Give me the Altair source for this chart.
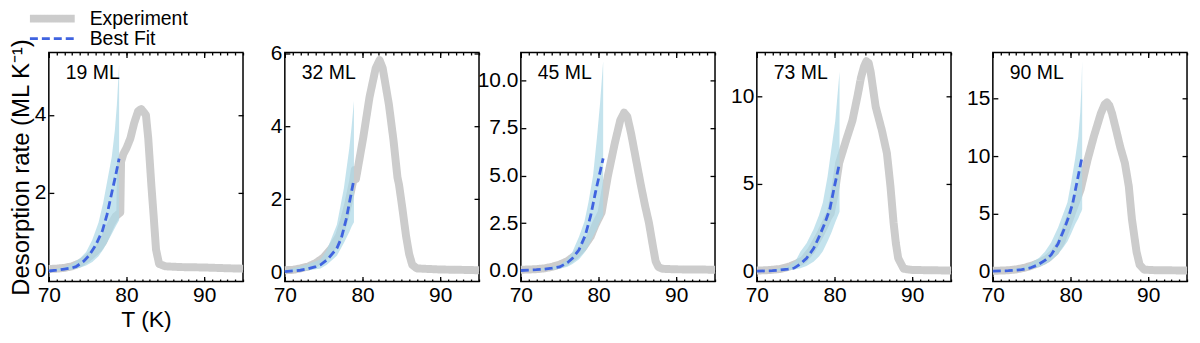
import altair as alt
import pandas as pd

FONT = "Liberation Sans"
series_names = ["Experiment", "Best Fit"]
series_colors = ["#cccccc", "#3f63e0"]
series_dash = [[1, 0], [8, 4]]
series_width = [8, 2.8]

x_domain = [70, 95]
x_major = [70, 80, 90]
x_minor = list(range(70, 96))

# ---- 19 ML ----
exp19_T = [70, 71, 72, 73, 74, 75, 76, 76.4, 77, 78, 78.6, 79.2, 79.3, 79.6, 80, 80.5, 81, 81.5, 81.9,
           82.5, 82.8, 83.2, 83.5, 83.8, 84.2, 85, 87, 90, 93, 95]
exp19_rate = [0.05, 0.06, 0.08, 0.12, 0.2, 0.33, 0.5, 0.58, 0.75, 1.2, 1.4, 1.5, 2.8, 3.0, 3.15, 3.4, 3.8,
              4.1, 4.15, 4.0, 3.4, 2.2, 1.4, 0.55, 0.18, 0.12, 0.1, 0.09, 0.07, 0.06]
fit19_T = [70, 71, 72, 73, 73.5, 74.5, 75.2, 76, 76.9, 77.5, 78.1, 78.6, 79.05]
fit19_rate = [0.0, 0.02, 0.05, 0.08, 0.11, 0.25, 0.4, 0.65, 1.03, 1.45, 2.0, 2.45, 2.88]
band19_T = [70, 71, 72, 73, 74, 74.8, 75.6, 76.4, 77.0, 77.7, 78.1, 78.5, 78.76, 79.05]
band19_hi = [0.03, 0.06, 0.1, 0.18, 0.32, 0.49, 0.8, 1.24, 1.75, 2.5, 2.92, 3.6, 4.26, 5.3]
band19_lo = [0.0, 0.01, 0.02, 0.04, 0.08, 0.14, 0.23, 0.38, 0.55, 0.8, 0.95, 1.1, 1.2, 1.3]

# ---- 32 ML ----
exp32_T = [70, 71, 72, 73, 74, 75, 76, 77, 77.6, 78.2, 78.8, 79.0, 79.15, 79.4, 80.1, 80.9, 81.7, 82.2,
           82.6, 83.0, 83.4, 84.0, 84.5, 84.7, 85.1, 85.6, 86.0, 86.4, 87, 90, 93, 95]
exp32_rate = [0.05, 0.06, 0.1, 0.15, 0.25, 0.4, 0.65, 1.0, 1.4, 1.9, 2.5, 2.8, 2.55, 2.85, 3.7, 4.8, 5.6,
              5.82, 5.6, 5.1, 4.6, 3.6, 2.6, 2.4, 1.8, 1.0, 0.5, 0.2, 0.1, 0.07, 0.06, 0.05]
fit32_T = [70, 72, 73, 74, 74.6, 75.5, 76.7, 77.3, 77.9, 78.4, 78.9]
fit32_rate = [0.01, 0.05, 0.09, 0.15, 0.2, 0.35, 0.65, 0.95, 1.45, 2.0, 2.55]
band32_T = [70, 72, 73, 74, 74.6, 75.4, 76.7, 77.6, 78.3, 78.6, 78.9]
band32_hi = [0.05, 0.15, 0.22, 0.3, 0.35, 0.6, 1.3, 2.3, 3.4, 4.0, 4.7]
band32_lo = [0.0, 0.03, 0.05, 0.08, 0.1, 0.2, 0.45, 0.8, 1.1, 1.25, 1.37]

# ---- 45 ML ----
exp45_T = [70, 71, 72, 73, 74, 75, 76, 77, 78, 79, 79.6, 80.4, 81.2, 82.1, 82.8, 83.3, 83.7, 84.2, 84.8,
           85.5, 86.0, 86.5, 87.0, 87.35, 87.7, 88.2, 90, 93, 95]
exp45_rate = [0.05, 0.06, 0.08, 0.12, 0.2, 0.32, 0.5, 0.8, 1.2, 1.8, 2.4, 3.06, 4.96, 6.7, 7.9, 8.3, 8.1,
              7.2, 5.9, 4.4, 3.4, 2.5, 1.3, 0.5, 0.2, 0.1, 0.07, 0.06, 0.05]
fit45_T = [70, 72, 73, 74, 75, 76, 76.65, 77.5, 78.3, 79, 79.6, 80.1, 80.6]
fit45_rate = [0.01, 0.05, 0.08, 0.13, 0.2, 0.42, 0.65, 1.1, 1.86, 2.9, 4.1, 5.0, 5.9]
band45_T = [70, 72, 74, 75, 76, 76.65, 77.5, 78.2, 78.7, 79.3, 79.8, 80.2, 80.6]
band45_hi = [0.02, 0.08, 0.2, 0.3, 0.6, 1.0, 1.8, 2.6, 3.58, 5.0, 7.0, 8.8, 11.0]
band45_lo = [0.0, 0.02, 0.05, 0.1, 0.2, 0.35, 0.6, 0.95, 1.3, 1.8, 2.2, 2.6, 2.9]

# ---- 73 ML ----
exp73_T = [70, 71, 72, 73, 74, 75, 76, 77, 78.1, 78.8, 79.2, 79.5, 80.0, 80.6, 81.5, 82.3, 83.0, 83.4,
           83.8, 84.1, 84.4, 84.65, 85.3, 86.1, 86.75, 87.2, 87.6, 87.9, 88.2, 88.9, 90, 93, 95]
exp73_rate = [0.05, 0.06, 0.09, 0.14, 0.25, 0.42, 0.65, 1.2, 2.06, 2.7, 3.1, 3.3, 4.4, 6.2, 7.5, 8.6, 10.1,
              11.05, 11.7, 12.0, 11.9, 11.4, 9.4, 8.05, 6.74, 4.87, 2.8, 1.6, 0.75, 0.15, 0.08, 0.06, 0.05]
fit73_T = [70, 72, 73, 74, 74.8, 75.6, 76.4, 77.3, 78.1, 78.8, 79.4, 80.0, 80.65]
fit73_rate = [0.01, 0.04, 0.08, 0.13, 0.19, 0.42, 0.75, 1.3, 2.06, 2.8, 3.56, 4.87, 6.2]
band73_T = [70, 72, 74, 75, 75.6, 76.4, 77.3, 78.0, 78.5, 79.1, 79.6, 80.1, 80.65]
band73_hi = [0.02, 0.08, 0.3, 0.6, 1.12, 1.6, 2.4, 3.2, 3.93, 5.4, 7.0, 8.6, 11.4]
band73_lo = [0.0, 0.02, 0.07, 0.12, 0.18, 0.3, 0.55, 0.85, 1.15, 1.7, 2.2, 2.8, 3.4]

# ---- 90 ML ----
exp90_T = [70, 71, 72, 73, 74, 75, 76, 77, 78, 78.8, 79.6, 80.4, 81.3, 82.2, 83.0, 83.9, 84.4, 84.7, 85.0,
           85.35, 85.9, 86.4, 87.0, 87.5, 87.9, 88.5, 88.9, 89.5, 91, 93, 95]
exp90_rate = [0.05, 0.07, 0.1, 0.17, 0.3, 0.5, 0.75, 1.1, 1.7, 2.56, 4.0, 5.5, 7.1, 9.7, 11.7, 13.7, 14.5,
              14.66, 14.4, 13.7, 12.2, 10.8, 9.4, 7.4, 4.56, 1.7, 0.57, 0.15, 0.1, 0.09, 0.08]
fit90_T = [70, 72, 73.7, 74.8, 75.8, 76.7, 77.5, 78.4, 79.2, 79.8, 80.3, 80.9, 81.5]
fit90_rate = [0.02, 0.06, 0.15, 0.3, 0.57, 0.95, 1.43, 2.4, 3.7, 4.8, 5.98, 7.97, 9.97]
band90_T = [70, 72, 74, 75, 76, 76.7, 77.5, 78.4, 79.0, 79.6, 80.1, 80.6, 81.0, 81.25, 81.4, 81.5]
band90_hi = [0.03, 0.12, 0.4, 0.75, 1.2, 1.7, 2.5, 3.8, 4.9, 5.98, 7.8, 9.8, 11.7, 13.8, 15.9, 18.2]
band90_lo = [0.0, 0.03, 0.12, 0.25, 0.4, 0.6, 0.95, 1.5, 2.0, 2.6, 3.3, 4.1, 4.6, 5.0, 5.2, 5.4]

panel_labels = ["19 ML", "32 ML", "45 ML", "73 ML", "90 ML"]
y_domains = [[-0.27, 5.6], [-0.26, 6.03], [-0.57, 11.46], [-0.58, 12.5], [-0.88, 19.0]]
y_ticks = [[0, 2, 4], [0, 2, 4, 6], [0, 2.5, 5, 7.5, 10], [0, 5, 10], [0, 5, 10, 15]]
y_formats = ["d", "d", ".1f", "d", "d"]

exp_data = [(exp19_T, exp19_rate), (exp32_T, exp32_rate), (exp45_T, exp45_rate),
            (exp73_T, exp73_rate), (exp90_T, exp90_rate)]
fit_data = [(fit19_T, fit19_rate), (fit32_T, fit32_rate), (fit45_T, fit45_rate),
            (fit73_T, fit73_rate), (fit90_T, fit90_rate)]
band_data = [(band19_T, band19_lo, band19_hi), (band32_T, band32_lo, band32_hi),
             (band45_T, band45_lo, band45_hi), (band73_T, band73_lo, band73_hi),
             (band90_T, band90_lo, band90_hi)]

W, H = 195, 230
MAJ, MIN = 5, 2.5

legend = alt.Legend(title=None, orient="none", legendX=-23, legendY=-44, direction="vertical",
                    symbolType="stroke", symbolSize=2025, labelFontSize=19.5, labelFont=FONT,
                    labelOffset=11, rowPadding=0, clipHeight=20, labelColor="black", padding=0)
color_enc = alt.Color("series:N", scale=alt.Scale(domain=series_names, range=series_colors), legend=legend)
dash_enc = alt.StrokeDash("series:N", scale=alt.Scale(domain=series_names, range=series_dash), legend=legend)
width_enc = alt.StrokeWidth("series:N", scale=alt.Scale(domain=series_names, range=series_width), legend=legend)


def make_panel(i):
    first = i == 0
    xs = alt.Scale(domain=x_domain, nice=False)
    ys = alt.Scale(domain=y_domains[i], nice=False, zero=False)
    eT, eR = exp_data[i]
    fT, fR = fit_data[i]
    bT, bL, bH = band_data[i]
    exp_df = pd.DataFrame({"T": eT, "rate": eR, "series": "Experiment"})
    fit_df = pd.DataFrame({"T": fT, "rate": fR, "series": "Best Fit"})
    band_df = pd.DataFrame({"T": bT, "lo": bL, "hi": bH})

    ax_bottom = dict(orient="bottom", values=x_major, tickSize=MAJ, offset=-MAJ, domain=False,
                     labelPadding=3, format="d", grid=False, labelFlush=False, labelOverlap=False)
    if first:
        ax_bottom.update(titlePadding=3, titleFontSize=23)
    ax_left = dict(orient="left", values=y_ticks[i], tickSize=MAJ, offset=-MAJ, domain=False,
                   labelPadding=3, format=y_formats[i], grid=False, labelFlush=False, labelOverlap=False)
    if first:
        ax_left.update(titlePadding=1, titleFontSize=24)

    exp = alt.Chart(exp_df).mark_line(strokeJoin="round", strokeCap="butt").encode(
        x=alt.X("T:Q", scale=xs, axis=alt.Axis(**ax_bottom), title="T (K)" if first else None),
        y=alt.Y("rate:Q", scale=ys, axis=alt.Axis(**ax_left),
                title="Desorption rate (ML K\u207b\u00b9)" if first else None),
        color=color_enc, strokeDash=dash_enc, strokeWidth=width_enc,
    )
    band = alt.Chart(band_df).mark_area(color="#add8e6", opacity=0.72).encode(
        x=alt.X("T:Q", scale=xs, title=None,
                axis=alt.Axis(orient="bottom", values=x_minor, tickSize=MIN, offset=-MIN, labels=False,
                              domain=False, grid=False)),
        y=alt.Y("lo:Q", scale=ys, title=None,
                axis=alt.Axis(orient="right", values=y_ticks[i], tickSize=MAJ, offset=-MAJ, labels=False,
                              domain=False, grid=False)),
        y2="hi:Q",
    )
    fit = alt.Chart(fit_df).mark_line(strokeCap="butt").encode(
        x=alt.X("T:Q", scale=xs, title=None,
                axis=alt.Axis(orient="top", values=x_major, tickSize=MAJ, offset=-MAJ, labels=False,
                              domain=False, grid=False)),
        y=alt.Y("rate:Q", scale=ys, axis=None),
        color=color_enc, strokeDash=dash_enc, strokeWidth=width_enc,
    )
    ghost = alt.Chart(fit_df).mark_point(opacity=0).encode(
        x=alt.X("T:Q", scale=xs, title=None,
                axis=alt.Axis(orient="top", values=x_minor, tickSize=MIN, offset=-MIN, labels=False,
                              domain=False, grid=False)),
        y=alt.Y("rate:Q", scale=ys, axis=None),
    )
    label = alt.Chart(pd.DataFrame({"txt": [panel_labels[i]]})).mark_text(
        align="left", baseline="middle", fontSize=19.5, font=FONT, color="black"
    ).encode(x=alt.value(17), y=alt.value(21), text="txt:N")

    return alt.layer(exp, band, fit, ghost, label).resolve_axis(
        x="independent", y="independent").properties(width=W, height=H)


chart = alt.hconcat(*[make_panel(i) for i in range(5)], spacing=42, bounds="flush").properties(
    padding=0
).configure_view(stroke="black", strokeWidth=1.5).configure_axis(
    labelFont=FONT, labelFontSize=21, labelColor="black", titleFont=FONT, titleFontSize=24,
    titleFontWeight="normal", titleColor="black", tickColor="black", tickWidth=1.3
).configure_legend(labelFont=FONT)

chart.save("out.html", embed_options={"renderer": "svg", "actions": False})
